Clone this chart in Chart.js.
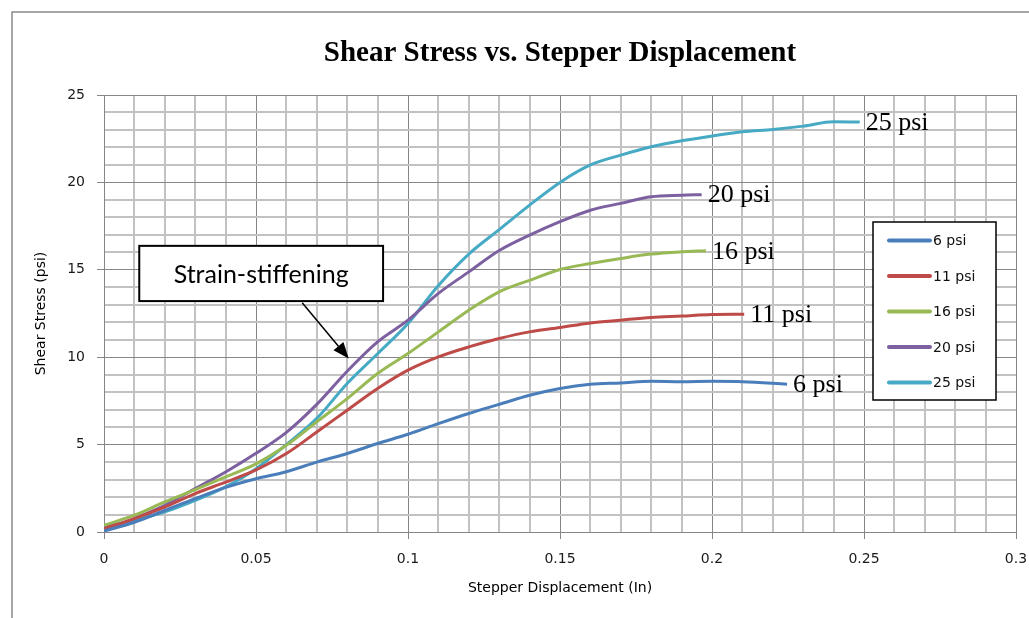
<!DOCTYPE html>
<html>
<head>
<meta charset="utf-8">
<script src="https://cdn.jsdelivr.net/npm/chart.js@4.4.1/dist/chart.umd.min.js"></script>
<style>
html,body{margin:0;padding:0;background:#fff;overflow:hidden}
canvas{display:block}
</style>
</head>
<body>
<canvas id="c" width="1029" height="618"></canvas>
<script>
// ---------- data ----------
const chartTitle = 'Shear Stress vs. Stepper Displacement';
const xAxisTitle = 'Stepper Displacement (In)';
const yAxisTitle = 'Shear Stress (psi)';
const seriesNames = ['6 psi', '11 psi', '16 psi', '20 psi', '25 psi'];
const xTickLabels = ['0', '0.05', '0.1', '0.15', '0.2', '0.25', '0.3'];
const yTickLabels = ['0', '5', '10', '15', '20', '25'];

const disp6 = [0, 0.01, 0.02, 0.03, 0.04, 0.05, 0.06, 0.07, 0.08, 0.09, 0.10, 0.11, 0.12, 0.13, 0.14, 0.15, 0.16, 0.17, 0.18, 0.19, 0.20, 0.21, 0.2247];
const stress6 = [0.05, 0.56, 1.23, 1.91, 2.55, 3.05, 3.45, 4.0, 4.49, 5.06, 5.59, 6.2, 6.78, 7.3, 7.82, 8.21, 8.45, 8.53, 8.62, 8.6, 8.62, 8.6, 8.45];

const disp11 = [0, 0.01, 0.02, 0.03, 0.04, 0.05, 0.06, 0.07, 0.08, 0.09, 0.10, 0.11, 0.12, 0.13, 0.14, 0.15, 0.16, 0.17, 0.18, 0.19, 0.20, 0.2106];
const stress11 = [0.2, 0.77, 1.43, 2.2, 2.85, 3.55, 4.49, 5.72, 6.97, 8.21, 9.26, 10.02, 10.59, 11.07, 11.45, 11.7, 11.96, 12.12, 12.27, 12.35, 12.44, 12.46];

const disp16 = [0, 0.01, 0.02, 0.03, 0.04, 0.05, 0.06, 0.07, 0.08, 0.09, 0.10, 0.11, 0.12, 0.13, 0.14, 0.15, 0.16, 0.17, 0.18, 0.19, 0.198];
const stress16 = [0.38, 0.96, 1.72, 2.42, 3.15, 3.9, 4.96, 6.3, 7.63, 9.07, 10.21, 11.45, 12.69, 13.74, 14.4, 15.02, 15.36, 15.65, 15.9, 16.03, 16.09];

const disp20 = [0, 0.01, 0.02, 0.03, 0.04, 0.05, 0.06, 0.07, 0.08, 0.09, 0.10, 0.11, 0.12, 0.13, 0.14, 0.15, 0.16, 0.17, 0.18, 0.19, 0.1966];
const stress20 = [0.1, 0.77, 1.53, 2.48, 3.43, 4.5, 5.7, 7.3, 9.2, 10.88, 12.12, 13.65, 14.88, 16.1, 16.98, 17.75, 18.41, 18.8, 19.18, 19.27, 19.3];

const disp25 = [0, 0.01, 0.02, 0.03, 0.04, 0.05, 0.06, 0.07, 0.08, 0.09, 0.10, 0.11, 0.12, 0.13, 0.14, 0.15, 0.16, 0.17, 0.18, 0.19, 0.20, 0.21, 0.22, 0.23, 0.24, 0.2486];
const stress25 = [0.3, 0.67, 1.15, 1.81, 2.58, 3.62, 5.0, 6.5, 8.5, 10.2, 11.93, 14.1, 15.9, 17.3, 18.7, 20.0, 21.0, 21.56, 22.04, 22.38, 22.65, 22.9, 23.03, 23.22, 23.47, 23.45];

const annotationText = 'Strain-stiffening';

// ---------- styling / config ----------
const seriesColors = ['#4A7EBB', '#BE4B48', '#98B954', '#7D60A0', '#46AAC5'];
const dispSets = [disp6, disp11, disp16, disp20, disp25];
const stressSets = [stress6, stress11, stress16, stress20, stress25];

const datasets = seriesNames.map((name, i) => ({
  label: name,
  data: dispSets[i].map((x, j) => ({x: x, y: stressSets[i][j]})),
  borderColor: seriesColors[i],
  backgroundColor: seriesColors[i],
  borderWidth: 3,
  pointRadius: 0,
  pointHoverRadius: 0,
  cubicInterpolationMode: 'monotone',
  fill: false
}));

const MAJOR = '#868686';
const MINOR = '#C2C2C2';
const isMajorX = v => Math.round(v * 100) % 5 === 0;
const isMajorY = v => Math.round(v) % 5 === 0;

// annotation placement in data units
const annot = {
  box: {x0: 0.0116, y0: 16.37, x1: 0.0918, y1: 13.21},
  arrow: {x0: 0.0652, y0: 13.11, x1: 0.0805, y1: 9.93}
};

const framePlugin = {
  id: 'frame',
  beforeDraw(chart) {
    const ctx = chart.ctx;
    ctx.save();
    ctx.fillStyle = '#fff';
    ctx.fillRect(0, 0, chart.width, chart.height);
    ctx.strokeStyle = '#8a8a8a';
    ctx.lineWidth = 1.5;
    ctx.strokeRect(12, 12, chart.width + 50, chart.height + 50);
    // chart title centred over the plot area
    const ca = chart.chartArea;
    ctx.fillStyle = '#000';
    ctx.font = 'bold 29px "Liberation Serif", "Times New Roman", serif';
    ctx.textAlign = 'center';
    ctx.textBaseline = 'middle';
    ctx.fillText(chartTitle, (ca.left + ca.right) / 2, 54);
    ctx.restore();
  }
};

const overlayPlugin = {
  id: 'overlay',
  afterDatasetsDraw(chart) {
    const ctx = chart.ctx;
    const xs = chart.scales.x, ys = chart.scales.y;
    const ca = chart.chartArea;
    ctx.save();
    // end labels
    ctx.font = '26px "Liberation Serif", "Times New Roman", serif';
    ctx.fillStyle = '#000';
    ctx.textBaseline = 'middle';
    ctx.textAlign = 'left';
    chart.data.datasets.forEach((ds, i) => {
      const meta = chart.getDatasetMeta(i);
      const last = meta.data[meta.data.length - 1];
      ctx.fillText(ds.label, last.x + 6, last.y + 1);
    });

    // annotation box
    const bx0 = xs.getPixelForValue(annot.box.x0), by0 = ys.getPixelForValue(annot.box.y0);
    const bx1 = xs.getPixelForValue(annot.box.x1), by1 = ys.getPixelForValue(annot.box.y1);
    ctx.fillStyle = '#fff';
    ctx.fillRect(bx0, by0, bx1 - bx0, by1 - by0);
    ctx.strokeStyle = '#000';
    ctx.lineWidth = 2;
    ctx.strokeRect(bx0, by0, bx1 - bx0, by1 - by0);
    ctx.fillStyle = '#000';
    ctx.font = '25px Lato, "Open Sans", sans-serif';
    ctx.textAlign = 'center';
    ctx.textBaseline = 'middle';
    ctx.fillText(annotationText, (bx0 + bx1) / 2, (by0 + by1) / 2 + 1);

    // arrow
    const ax0 = xs.getPixelForValue(annot.arrow.x0), ay0 = ys.getPixelForValue(annot.arrow.y0);
    const ax1 = xs.getPixelForValue(annot.arrow.x1), ay1 = ys.getPixelForValue(annot.arrow.y1);
    const ang = Math.atan2(ay1 - ay0, ax1 - ax0);
    const headLen = 16, headW = 6.5;
    const hx = ax1 - headLen * Math.cos(ang), hy = ay1 - headLen * Math.sin(ang);
    ctx.beginPath();
    ctx.moveTo(ax0, ay0);
    ctx.lineTo(hx, hy);
    ctx.lineWidth = 1.5;
    ctx.stroke();
    ctx.beginPath();
    ctx.moveTo(ax1, ay1);
    ctx.lineTo(hx + headW * Math.sin(ang), hy - headW * Math.cos(ang));
    ctx.lineTo(hx - headW * Math.sin(ang), hy + headW * Math.cos(ang));
    ctx.closePath();
    ctx.fill();

    // legend
    const lw = 123, lh = 178;
    const lx = ca.right - 143, ly = ca.top + 127;
    ctx.fillStyle = '#fff';
    ctx.fillRect(lx, ly, lw, lh);
    ctx.strokeStyle = '#000';
    ctx.lineWidth = 1.5;
    ctx.strokeRect(lx, ly, lw, lh);
    ctx.font = '14px "DejaVu Sans", sans-serif';
    ctx.textAlign = 'left';
    ctx.textBaseline = 'middle';
    chart.data.datasets.forEach((ds, i) => {
      const y = ly + 18.5 + i * 35.5;
      ctx.beginPath();
      ctx.moveTo(lx + 16, y);
      ctx.lineTo(lx + 57, y);
      ctx.strokeStyle = ds.borderColor;
      ctx.lineWidth = 4;
      ctx.lineCap = 'round';
      ctx.stroke();
      ctx.fillStyle = '#111';
      ctx.fillText(ds.label, lx + 60, y + 1);
    });
    ctx.restore();
  }
};

const tickFont = {family: '"DejaVu Sans", sans-serif', size: 14};
const titleFont = {family: '"DejaVu Sans", sans-serif', size: 14};

new Chart(document.getElementById('c'), {
  type: 'line',
  data: {datasets: datasets},
  options: {
    responsive: false,
    animation: false,
    devicePixelRatio: 1,
    layout: {padding: {left: 0, right: 13, top: 95, bottom: 0}},
    plugins: {
      legend: {display: false},
      tooltip: {enabled: false},
      title: {display: false}
    },
    scales: {
      x: {
        type: 'linear',
        min: 0, max: 0.3,
        afterFit(s) { s.height = 86; s.paddingLeft = 0; s.paddingRight = 0; },
        ticks: {
          stepSize: 0.01,
          autoSkip: false,
          maxRotation: 0,
          padding: 12,
          color: '#1a1a1a',
          font: tickFont,
          callback: v => { const k = Math.round(v * 100); return k % 5 === 0 ? xTickLabels[k / 5] : ''; }
        },
        grid: {
          color: c => isMajorX(c.tick.value) ? MAJOR : MINOR,
          lineWidth: c => isMajorX(c.tick.value) ? 1 : 2,
          tickColor: c => isMajorX(c.tick.value) ? MAJOR : 'rgba(0,0,0,0)',
          tickWidth: 1,
          tickLength: 7
        },
        border: {display: true, color: MAJOR, width: 1},
        title: {display: true, text: xAxisTitle, color: '#000', font: titleFont, padding: {top: 4, bottom: 21.6}}
      },
      y: {
        type: 'linear',
        min: 0, max: 25,
        afterFit(s) { s.width = 104; s.paddingTop = 0; s.paddingBottom = 0; },
        ticks: {
          stepSize: 1,
          autoSkip: false,
          padding: 12,
          color: '#1a1a1a',
          font: tickFont,
          callback: v => { const k = Math.round(v); return k % 5 === 0 ? yTickLabels[k / 5] : ''; }
        },
        grid: {
          color: c => isMajorY(c.tick.value) ? MAJOR : MINOR,
          lineWidth: c => isMajorY(c.tick.value) ? 1 : 2,
          tickColor: c => isMajorY(c.tick.value) ? MAJOR : 'rgba(0,0,0,0)',
          tickWidth: 1,
          tickLength: 7
        },
        border: {display: true, color: MAJOR, width: 1},
        title: {display: true, text: yAxisTitle, color: '#000', font: titleFont, padding: {top: 32.6, bottom: 4}}
      }
    }
  },
  plugins: [framePlugin, overlayPlugin]
});
</script>
</body>
</html>
